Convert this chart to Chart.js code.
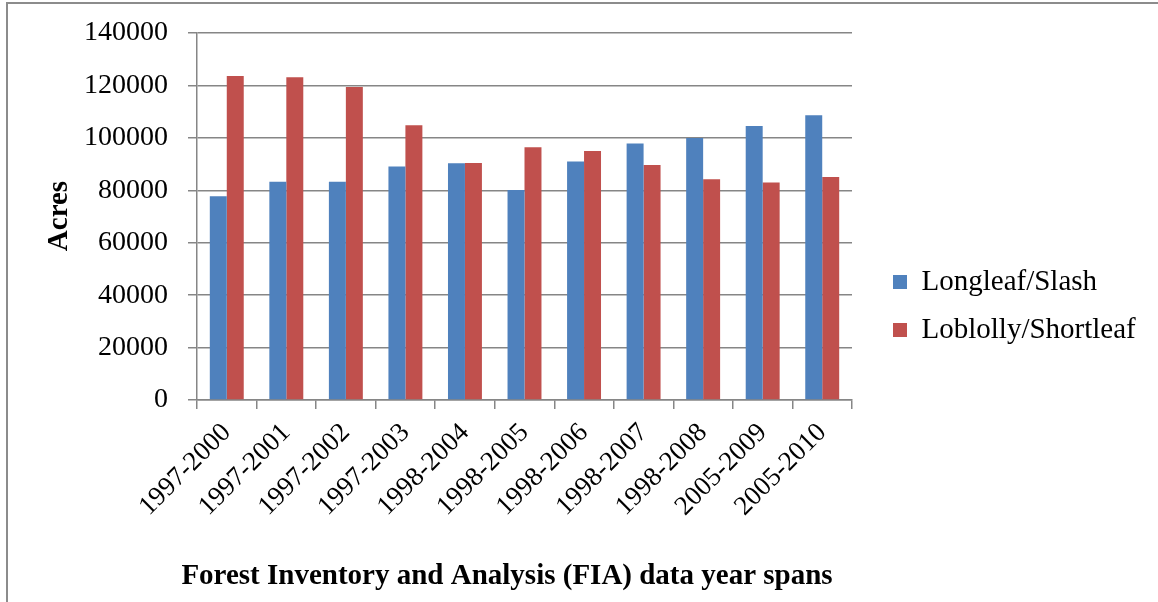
<!DOCTYPE html>
<html>
<head>
<meta charset="utf-8">
<script src="https://cdn.jsdelivr.net/npm/chart.js@4.4.1/dist/chart.umd.min.js"></script>
<style>
  html, body { margin: 0; padding: 0; background: #fff; }
  #wrap { position: relative; width: 1158px; height: 602px; overflow: hidden; }
  #frame { position: absolute; left: 6px; top: 2px; width: 1180px; height: 640px; border: 2px solid #8c8c8c; pointer-events: none; }
  canvas { position: absolute; left: 0; top: 0; }
</style>
</head>
<body>
<div id="wrap">
  <canvas id="fiaChart" width="1158" height="602"></canvas>
  <div id="frame"></div>
</div>
<script>
// --- data ---
const yearSpans = ['1997-2000', '1997-2001', '1997-2002', '1997-2003', '1998-2004', '1998-2005',
                   '1998-2006', '1998-2007', '1998-2008', '2005-2009', '2005-2010'];
const longleafSlash     = [77700, 83300, 83300, 89100, 90300, 80100, 91000, 97800, 99900, 104500, 108600];
const loblollyShortleaf = [123600, 123100, 119400, 104800, 90400, 96400, 95000, 89600, 84200, 83000, 85100];
const yMin = 0, yMax = 140000, yStep = 20000;
const yTitle = 'Acres';
const xTitle = 'Forest Inventory and Analysis (FIA) data year spans';

const SERIF = '"Liberation Serif", "Times New Roman", serif';
const GRID = '#868686';

// plot box in page pixels
const PLOT_LEFT = 197, PLOT_RIGHT = 852, PLOT_TOP = 33, PLOT_BOTTOM = 400;
const LEGEND_BOX_X = 893, LEGEND_ROW1_Y = 282;

Chart.defaults.color = '#000';
Chart.defaults.font.family = SERIF;

// axis titles sit where the original has them (x title is not centred on the plot)
const axisTitles = {
    id: 'axisTitles',
    afterDraw(chart) {
        const ctx = chart.ctx;
        ctx.save();
        ctx.fillStyle = '#000';
        ctx.textAlign = 'center';
        ctx.textBaseline = 'middle';
        ctx.font = 'bold 29px ' + SERIF;
        ctx.translate(60, 216);
        ctx.rotate(-Math.PI / 2);
        ctx.fillText(yTitle, 0, 0);
        ctx.restore();

        ctx.save();
        ctx.fillStyle = '#000';
        ctx.textAlign = 'center';
        ctx.textBaseline = 'middle';
        ctx.font = 'bold 29px ' + SERIF;
        ctx.fillText(xTitle, 507, 577);
        ctx.restore();
    }
};

// move the legend away from the plot, like the original
const legendPlace = {
    id: 'legendPlace',
    afterLayout(chart) {
        const lg = chart.legend;
        if (!lg) return;
        const pad = lg.options.labels.padding;
        const fs = lg.options.labels.font.size;
        const w = lg.right - lg.left;
        lg.left = LEGEND_BOX_X - pad;
        lg.right = lg.left + w;
        // legend centres its column (2 rows of fs + pad) between top + pad and bottom
        const colH = 2 * (fs + pad);
        const curStart = (lg.top + pad + lg.bottom - colH) / 2;
        const dy = (LEGEND_ROW1_Y - fs / 2) - curStart;
        lg.top += dy;
        lg.bottom += dy;
    }
};

const chart = new Chart(document.getElementById('fiaChart'), {
    type: 'bar',
    data: {
        labels: yearSpans,
        datasets: [
            {
                label: 'Longleaf/Slash',
                data: longleafSlash,
                backgroundColor: '#4F81BD',
                borderWidth: 0
            },
            {
                label: 'Loblolly/Shortleaf',
                data: loblollyShortleaf,
                backgroundColor: '#C0504D',
                borderWidth: 0
            }
        ]
    },
    options: {
        responsive: false,
        animation: false,
        layout: { padding: { left: 0, right: 30, top: PLOT_TOP, bottom: 0 } },
        datasets: { bar: { categoryPercentage: 0.57, barPercentage: 1.0 } },
        plugins: {
            tooltip: { enabled: false },
            legend: {
                position: 'right',
                labels: {
                    boxWidth: 14,
                    boxHeight: 14,
                    padding: 19,
                    color: '#000',
                    font: { size: 29, family: SERIF }
                }
            }
        },
        scales: {
            x: {
                grid: {
                    offset: true,
                    drawOnChartArea: false,
                    drawTicks: true,
                    tickLength: 9,
                    color: GRID,
                    lineWidth: 1.5
                },
                border: { color: GRID, width: 1.5 },
                ticks: {
                    autoSkip: false,
                    minRotation: 45,
                    maxRotation: 45,
                    padding: 8,
                    color: '#000',
                    font: { size: 27, family: SERIF }
                },
                afterFit(scale) { scale.height = 602 - PLOT_BOTTOM; }
            },
            y: {
                min: yMin,
                max: yMax,
                ticks: {
                    stepSize: yStep,
                    padding: 20,
                    color: '#000',
                    font: { size: 28, family: SERIF },
                    callback: (v) => String(v)
                },
                grid: {
                    color: GRID,
                    lineWidth: 1.5,
                    tickLength: 9
                },
                border: { color: GRID, width: 1.5 },
                afterFit(scale) {
                    scale.width = PLOT_LEFT;
                    scale.paddingTop = 0;
                    scale.paddingBottom = 0;
                }
            }
        }
    },
    plugins: [axisTitles, legendPlace]
});

// pin the plot box: nudge the layout padding until the chart area sits where it should
for (let i = 0; i < 5; i++) {
    const area = chart.chartArea;
    const dr = area.right - PLOT_RIGHT;
    const dt = area.top - PLOT_TOP;
    if (Math.abs(dr) < 0.5 && Math.abs(dt) < 0.5) break;
    chart.options.layout.padding.right += dr;
    chart.options.layout.padding.top -= dt;
    chart.update();
}
</script>
</body>
</html>
